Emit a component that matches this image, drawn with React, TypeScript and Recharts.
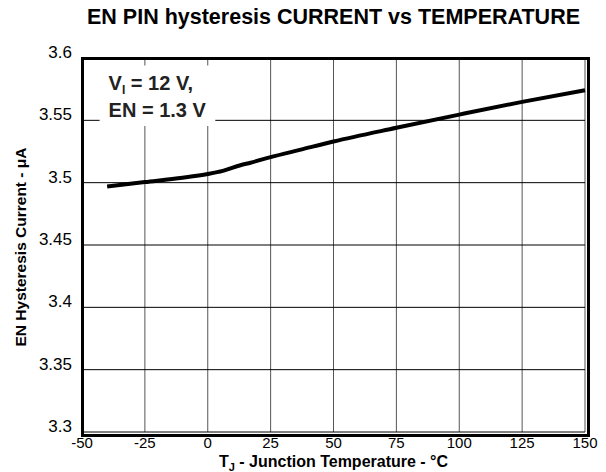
import React from "react";
import {
  LineChart,
  Line,
  XAxis,
  YAxis,
  CartesianGrid,
  ReferenceArea,
} from "recharts";

const temps = [-40, -25, -10, 0, 6, 13, 17, 25, 37, 50, 75, 100, 125, 150];
const current = [3.497, 3.5005, 3.504, 3.507, 3.5095, 3.514, 3.516, 3.5205, 3.5265, 3.533, 3.544, 3.5546, 3.5648, 3.5741];
const xTicks = [-50, -25, 0, 25, 50, 75, 100, 125, 150];
const yTicks = [3.3, 3.35, 3.4, 3.45, 3.5, 3.55, 3.6];

const data = temps.map((t, i) => ({ t, v: current[i] }));

const FONT = "'Liberation Sans', Arial, Helvetica, sans-serif";
const W = 606;
const H = 472;
const M = { top: 58, right: 21, left: 82, bottom: 40 };

const XTick = ({ x, y, payload }: any) => (
  <text x={x} y={y + 8} textAnchor="middle" fontSize={15} fontFamily={FONT} fill="#000">
    {payload.value}
  </text>
);

const YTick = ({ x, y, payload }: any) => (
  <text x={x - 2} y={y} textAnchor="end" fontSize={17} fontFamily={FONT} fill="#000">
    {payload.value}
  </text>
);

const YLabel = ({ viewBox }: any) => {
  const cx = viewBox.x + 20;
  const cy = viewBox.y + viewBox.height / 2 + 2;
  return (
    <text
      x={cx}
      y={cy}
      transform={`rotate(-90 ${cx} ${cy})`}
      textAnchor="middle"
      dominantBaseline="central"
      fontSize={15.5}
      fontWeight="bold"
      fontFamily={FONT}
      fill="#000"
    >
      EN Hysteresis Current - μA
    </text>
  );
};

const XLabel = ({ viewBox }: any) => (
  <text
    x={viewBox.x + viewBox.width / 2}
    y={viewBox.y + 35}
    textAnchor="middle"
    fontSize={16}
    fontWeight="bold"
    fontFamily={FONT}
    fill="#000"
  >
    T<tspan fontSize={11} dy={4}>J</tspan>
    <tspan dy={-4}> - Junction Temperature - °C</tspan>
  </text>
);

const Note = ({ viewBox }: any) => (
  <g fontFamily={FONT} fontWeight="bold" fontSize={20} fill="#222">
    <text x={viewBox.x + 9} y={viewBox.y + 25}>
      V<tspan fontSize={12} dy={4}>I</tspan>
      <tspan dy={-4}> = 12 V,</tspan>
    </text>
    <text x={viewBox.x + 9} y={viewBox.y + 52}>EN = 1.3 V</text>
  </g>
);

export default function App() {
  return (
    <div style={{ position: "absolute", left: 0, top: 0, width: W, height: H, background: "#fff" }}>
      <div
        style={{
          position: "absolute",
          left: M.left,
          width: W - M.left - M.right,
          top: 5,
          textAlign: "center",
          fontFamily: FONT,
          fontWeight: "bold",
          fontSize: 21.5,
          color: "#000",
          whiteSpace: "nowrap",
        }}
      >
        EN PIN hysteresis CURRENT vs TEMPERATURE
      </div>
      <LineChart width={W} height={H} data={data} margin={{ top: M.top, right: M.right, left: 0, bottom: 0 }}>
        <CartesianGrid horizontal={false} stroke="#555" strokeWidth={1} />
        <CartesianGrid vertical={false} stroke="#000" strokeWidth={1} />
        <XAxis
          dataKey="t"
          type="number"
          domain={[-50, 150]}
          ticks={xTicks}
          height={M.bottom}
          axisLine={false}
          tickLine={false}
          tick={<XTick />}
          label={<XLabel />}
        />
        <YAxis
          type="number"
          domain={[3.3, 3.6]}
          ticks={yTicks}
          width={M.left}
          axisLine={false}
          tickLine={false}
          tick={<YTick />}
          label={<YLabel />}
          allowDataOverflow
        />
        <ReferenceArea
          x1={-43}
          x2={3}
          y1={3.5455}
          y2={3.594}
          fill="#fff"
          fillOpacity={1}
          stroke="none"
          label={<Note />}
        />
        <Line
          dataKey="v"
          type="monotone"
          stroke="#000"
          strokeWidth={4}
          dot={false}
          isAnimationActive={false}
        />
      </LineChart>
      {/* plot frame */}
      <div
        style={{
          position: "absolute",
          left: M.left - 1.5,
          top: M.top - 1.5,
          width: W - M.left - M.right,
          height: H - M.top - M.bottom,
          border: "3px solid #000",
          pointerEvents: "none",
        }}
      />
    </div>
  );
}
